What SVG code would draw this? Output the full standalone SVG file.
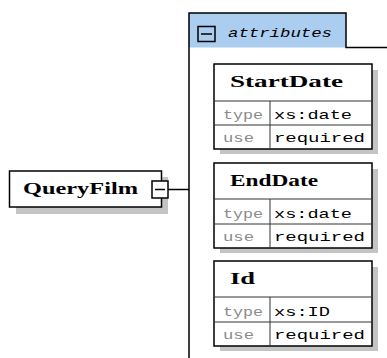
<svg xmlns="http://www.w3.org/2000/svg" width="387" height="358" viewBox="0 0 387 358">
<style>
.box{fill:#fff;stroke:#000;stroke-width:1.5}
.shadow{fill:#c4c4c4}
.div{stroke:#333;stroke-width:1}
.line{stroke:#000;stroke-width:1.5;fill:none}
.title{font-family:"Liberation Serif",serif;font-weight:bold;font-size:16px;fill:#000}
.key{font-family:"Liberation Mono",monospace;font-size:13px;fill:#8a8a8a}
.val{font-family:"Liberation Mono",monospace;font-size:13px;fill:#000}
.tab{font-family:"Liberation Mono",monospace;font-style:italic;font-size:13px;fill:#000}
</style>
<g id="attributes-group">
<rect x="188.5" y="13" width="157.5" height="34.5" fill="#abcdf0"/>
<path class="line" d="M189 358 V13 H346 V47.5 H387"/>
<rect x="198" y="26.5" width="17" height="15" fill="none" stroke="#000" stroke-width="1.5"/>
<line x1="201" y1="34" x2="212" y2="34" stroke="#000" stroke-width="1.5"/>
<text class="tab" x="228" y="37" textLength="104" lengthAdjust="spacingAndGlyphs">attributes</text>
</g>
<g id="connectors">
<line class="line" x1="168" y1="189.5" x2="189" y2="189.5"/>
</g>
<g id="QueryFilm">
<rect class="shadow" x="16" y="177" width="152" height="37"/>
<rect class="box" x="9.5" y="171" width="152" height="36"/>
<rect x="152" y="181" width="16" height="17" fill="#fff" stroke="#000" stroke-width="1.5"/>
<line x1="155" y1="189.5" x2="165" y2="189.5" stroke="#000" stroke-width="1.5"/>
<text class="title" x="23" y="194" textLength="115" lengthAdjust="spacingAndGlyphs">QueryFilm</text>
</g>
<g id="StartDate">
<rect class="shadow" x="220" y="70" width="158" height="84"/>
<rect class="box" x="214" y="64" width="158" height="85"/>
<line class="div" x1="214" y1="101" x2="372" y2="101"/>
<line class="div" x1="214" y1="125" x2="372" y2="125"/>
<line class="div" x1="270" y1="101" x2="270" y2="149"/>
<text class="title" x="230" y="87" textLength="113" lengthAdjust="spacingAndGlyphs">StartDate</text>
<text class="key" x="223" y="119" textLength="40" lengthAdjust="spacingAndGlyphs">type</text>
<text class="val" x="274" y="119" textLength="78" lengthAdjust="spacingAndGlyphs">xs:date</text>
<text class="key" x="223" y="142" textLength="31" lengthAdjust="spacingAndGlyphs">use</text>
<text class="val" x="274" y="142" textLength="91" lengthAdjust="spacingAndGlyphs">required</text>
</g>
<g id="EndDate">
<rect class="shadow" x="220" y="169" width="158" height="84"/>
<rect class="box" x="214" y="163" width="158" height="85"/>
<line class="div" x1="214" y1="199" x2="372" y2="199"/>
<line class="div" x1="214" y1="224" x2="372" y2="224"/>
<line class="div" x1="270" y1="199" x2="270" y2="248"/>
<text class="title" x="230" y="186" textLength="88" lengthAdjust="spacingAndGlyphs">EndDate</text>
<text class="key" x="223" y="218" textLength="40" lengthAdjust="spacingAndGlyphs">type</text>
<text class="val" x="274" y="218" textLength="78" lengthAdjust="spacingAndGlyphs">xs:date</text>
<text class="key" x="223" y="241" textLength="31" lengthAdjust="spacingAndGlyphs">use</text>
<text class="val" x="274" y="241" textLength="91" lengthAdjust="spacingAndGlyphs">required</text>
</g>
<g id="Id">
<rect class="shadow" x="220" y="267" width="158" height="84"/>
<rect class="box" x="214" y="261" width="158" height="85"/>
<line class="div" x1="214" y1="297" x2="372" y2="297"/>
<line class="div" x1="214" y1="322" x2="372" y2="322"/>
<line class="div" x1="270" y1="297" x2="270" y2="346"/>
<text class="title" x="230" y="284" textLength="25" lengthAdjust="spacingAndGlyphs">Id</text>
<text class="key" x="223" y="316" textLength="40" lengthAdjust="spacingAndGlyphs">type</text>
<text class="val" x="274" y="316" textLength="56" lengthAdjust="spacingAndGlyphs">xs:ID</text>
<text class="key" x="223" y="339" textLength="31" lengthAdjust="spacingAndGlyphs">use</text>
<text class="val" x="274" y="339" textLength="91" lengthAdjust="spacingAndGlyphs">required</text>
</g>
</svg>
